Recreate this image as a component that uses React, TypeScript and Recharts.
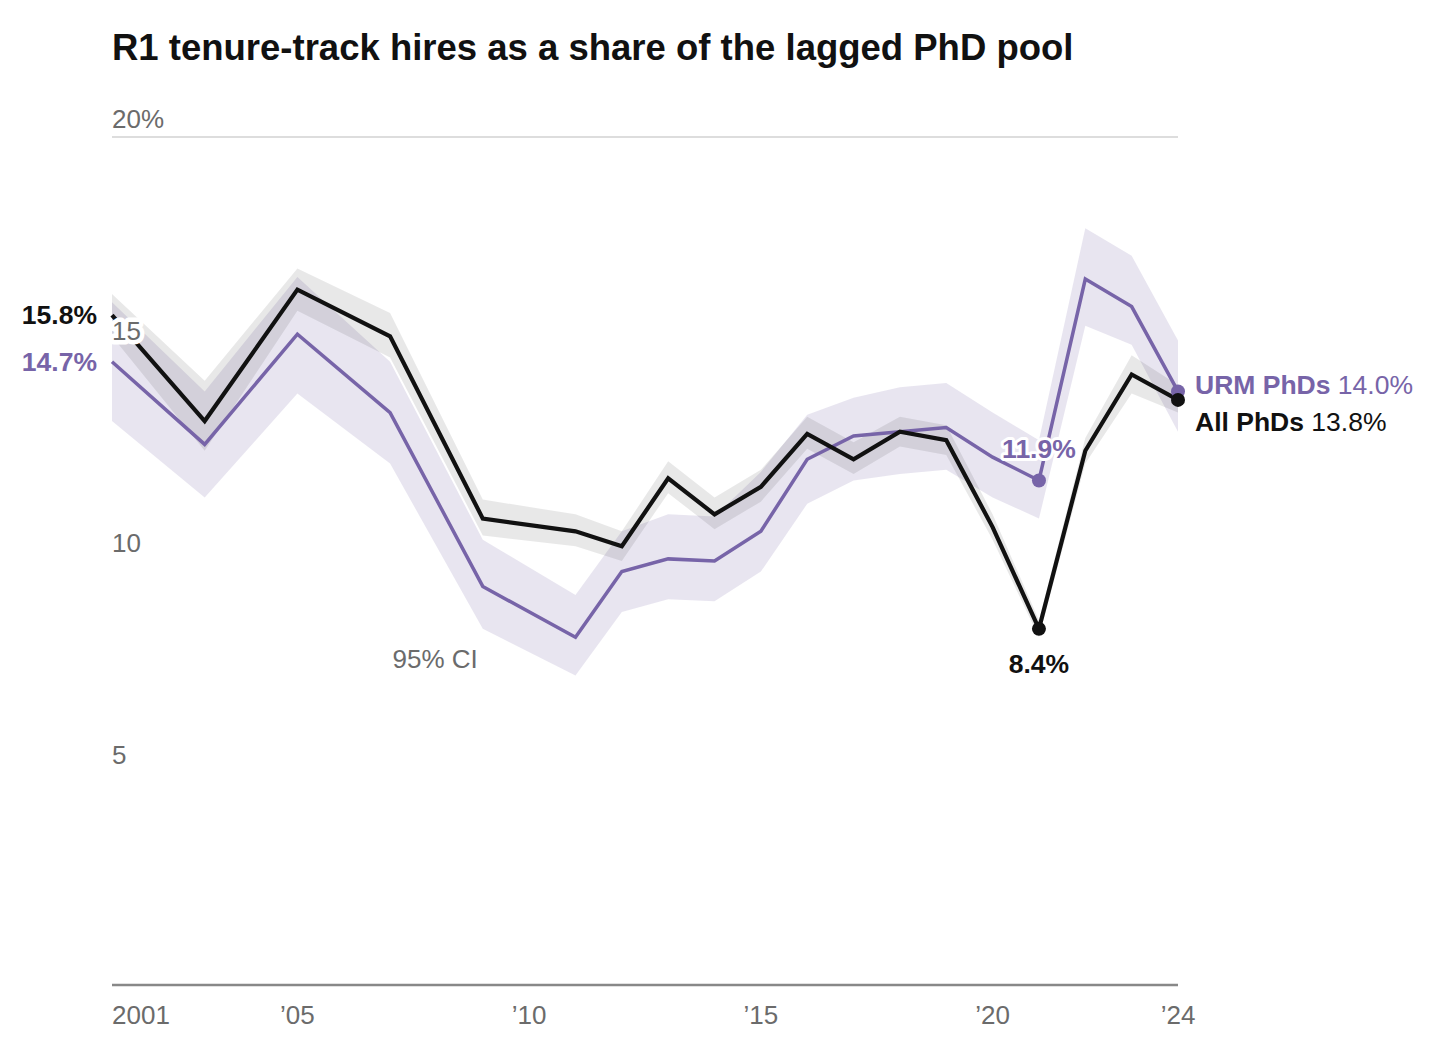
import React from 'react';
import { ComposedChart, Line, Area, XAxis, YAxis, CartesianGrid, ReferenceDot, ReferenceLine } from 'recharts';

const years = [2001, 2003, 2005, 2007, 2009, 2011, 2012, 2013, 2014, 2015, 2016, 2017, 2018, 2019, 2020, 2021, 2022, 2023, 2024];
const allPhds = [15.8, 13.3, 16.4, 15.3, 11.0, 10.7, 10.35, 11.95, 11.1, 11.75, 13.0, 12.4, 13.05, 12.85, 10.8, 8.4, 12.6, 14.4, 13.8];
const allLow = [15.3, 12.6, 15.9, 14.8, 10.6, 10.35, 10.0, 11.6, 10.75, 11.4, 12.65, 12.05, 12.7, 12.5, 10.5, 8.2, 12.3, 13.95, 13.5];
const allHigh = [16.3, 14.25, 16.9, 15.85, 11.45, 11.1, 10.7, 12.35, 11.5, 12.15, 13.4, 12.8, 13.4, 13.2, 11.1, 8.6, 12.9, 14.85, 14.15];
const urmPhds = [14.7, 12.75, 15.35, 13.5, 9.4, 8.2, 9.75, 10.05, 10.0, 10.7, 12.4, 12.95, 13.05, 13.15, 12.45, 11.9, 16.65, 16.0, 14.0];
const urmLow = [13.3, 11.5, 13.95, 12.3, 8.4, 7.3, 8.8, 9.1, 9.05, 9.75, 11.35, 11.9, 12.05, 12.15, 11.5, 11.0, 15.55, 15.1, 13.05];
const urmHigh = [16.1, 14.0, 16.7, 14.7, 10.5, 9.2, 10.7, 11.1, 11.05, 12.1, 13.45, 13.85, 14.1, 14.2, 13.5, 12.85, 17.85, 17.2, 15.2];

const xTicks = [2001, 2005, 2010, 2015, 2020, 2024];
const xTickLabels = ['2001', '\u201905', '\u201910', '\u201915', '\u201920', '\u201924'];
const yTicks = [0, 5, 10, 15, 20];
const yTickLabels = ['', '5', '10', '15', '20%'];

const seriesNames = { all: 'All PhDs', urm: 'URM PhDs' };
const title = 'R1 tenure-track hires as a share of the lagged PhD pool';
const ciLabel = '95% CI';
const ciYear = 2009;

const data = years.map((year, i) => ({
  year,
  all: allPhds[i],
  allBand: [allLow[i], allHigh[i]],
  urm: urmPhds[i],
  urmBand: [urmLow[i], urmHigh[i]],
}));

const FONT = '"Liberation Sans", Arial, Helvetica, sans-serif';
const PURPLE = '#7764a8';
const BLACK = '#111111';
const GRAY = '#6b6b6b';
const FS = 26;
const LFS = 26.5;

const lastIdx = years.length - 1;
const dipIdx = years.indexOf(2021);
const pct = (v: number) => `${v.toFixed(1)}%`;

const XTick = (props: any) => {
  const { x, y, payload } = props;
  const i = xTicks.indexOf(payload.value);
  return (
    <text x={x} y={y + 39} textAnchor={i === 0 ? 'start' : 'middle'} fontFamily={FONT} fontSize={FS} fill={GRAY}>
      {xTickLabels[i]}
    </text>
  );
};

const YTickLabel = (props: any) => {
  const { viewBox, text } = props;
  if (!text) return <g />;
  return (
    <text x={viewBox.x} y={viewBox.y - 9} textAnchor="start" fontFamily={FONT} fontSize={FS} fill={GRAY}
      stroke="#fff" strokeWidth={9} paintOrder="stroke" strokeLinejoin="round">
      {text}
    </text>
  );
};

const makeDot = (color: string) => (props: any) => {
  const { cx, cy, index } = props;
  if (index !== dipIdx && index !== lastIdx) return <g key={`d${index}`} />;
  return <circle key={`d${index}`} cx={cx} cy={cy} r={7} fill={color} stroke="none" />;
};

const renderAllLabel = (props: any) => {
  const { x, y, index } = props;
  if (index === 0) {
    return (
      <text key="a0" x={x - 15} y={y + 9} textAnchor="end" fontFamily={FONT} fontSize={LFS} fontWeight={700} fill={BLACK}>
        {pct(allPhds[0])}
      </text>
    );
  }
  if (index === dipIdx) {
    return (
      <text key="ad" x={x} y={y + 44} textAnchor="middle" fontFamily={FONT} fontSize={LFS} fontWeight={700} fill={BLACK}>
        {pct(allPhds[dipIdx])}
      </text>
    );
  }
  if (index === lastIdx) {
    return (
      <text key="al" x={x + 17} y={y + 31} textAnchor="start" fontFamily={FONT} fontSize={LFS} fill={BLACK}>
        <tspan fontWeight={700}>{seriesNames.all}</tspan>
        <tspan> {pct(allPhds[lastIdx])}</tspan>
      </text>
    );
  }
  return <g key={`a${index}`} />;
};

const renderUrmLabel = (props: any) => {
  const { x, y, index } = props;
  if (index === 0) {
    return (
      <text key="u0" x={x - 15} y={y + 9} textAnchor="end" fontFamily={FONT} fontSize={LFS} fontWeight={700} fill={PURPLE}>
        {pct(urmPhds[0])}
      </text>
    );
  }
  if (index === dipIdx) {
    return (
      <text key="ud" x={x} y={y - 22} textAnchor="middle" fontFamily={FONT} fontSize={LFS} fontWeight={700} fill={PURPLE}
        stroke="#fff" strokeWidth={6} paintOrder="stroke" strokeLinejoin="round">
        {pct(urmPhds[dipIdx])}
      </text>
    );
  }
  if (index === lastIdx) {
    return (
      <text key="ul" x={x + 17} y={y + 3} textAnchor="start" fontFamily={FONT} fontSize={LFS} fill={PURPLE}>
        <tspan fontWeight={700}>{seriesNames.urm}</tspan>
        <tspan> {pct(urmPhds[lastIdx])}</tspan>
      </text>
    );
  }
  return <g key={`u${index}`} />;
};

const CiLabel = (props: any) => {
  const { viewBox } = props;
  const x = viewBox.x + (viewBox.width || 0) / 2;
  const y = viewBox.y + (viewBox.height || 0) / 2;
  return (
    <text x={x - 5} y={y + 39} textAnchor="end" fontFamily={FONT} fontSize={FS} fill={GRAY}>
      {ciLabel}
    </text>
  );
};

export default function App() {
  const ciIdx = years.indexOf(ciYear);
  return (
    <div style={{ position: 'relative', width: 1440, height: 1033, fontFamily: FONT }}>
      <div
        style={{
          position: 'absolute',
          left: 104,
          top: 22,
          fontSize: 36.5,
          lineHeight: '36px',
          fontWeight: 700,
          color: BLACK,
          whiteSpace: 'nowrap',
          zIndex: 2,
        }}
      >
        {title}
      </div>
      <ComposedChart
        width={1440}
        height={1033}
        data={data}
        margin={{ top: 129, right: 270, bottom: 0, left: 0 }}
      >
        <CartesianGrid horizontal vertical={false} stroke="#dddddd" strokeWidth={2} />
        <XAxis
          dataKey="year"
          type="number"
          domain={[2001, 2024]}
          ticks={xTicks}
          interval={0}
          height={56}
          tickLine={false}
          tickSize={0}
          tickMargin={0}
          axisLine={{ stroke: '#888888', strokeWidth: 2.5 }}
          tick={<XTick />}
        />
        <YAxis
          type="number"
          domain={[0, 20]}
          ticks={yTicks}
          interval={0}
          width={104}
          tickLine={false}
          axisLine={false}
          tick={false}
        />
        <Area
          dataKey="urmBand"
          type="linear"
          stroke="none"
          fill={PURPLE}
          fillOpacity={0.17}
          isAnimationActive={false}
          activeDot={false}
        />
        <Area
          dataKey="allBand"
          type="linear"
          stroke="none"
          fill="#000000"
          fillOpacity={0.09}
          isAnimationActive={false}
          activeDot={false}
        />
        <Line
          dataKey="urm"
          type="linear"
          stroke={PURPLE}
          strokeWidth={3.5}
          dot={makeDot(PURPLE)}
          activeDot={false}
          label={renderUrmLabel}
          isAnimationActive={false}
        />
        <Line
          dataKey="all"
          type="linear"
          stroke={BLACK}
          strokeWidth={4.2}
          dot={makeDot(BLACK)}
          activeDot={false}
          label={renderAllLabel}
          isAnimationActive={false}
        />
        {yTicks.map((t, i) => (
          <ReferenceLine
            key={`yt${t}`}
            y={t}
            stroke="none"
            ifOverflow="visible"
            zIndex={2500}
            label={<YTickLabel text={yTickLabels[i]} />}
          />
        ))}
        <ReferenceDot x={ciYear} y={urmLow[ciIdx]} r={0} fill="none" stroke="none" label={<CiLabel />} />
      </ComposedChart>
    </div>
  );
}
